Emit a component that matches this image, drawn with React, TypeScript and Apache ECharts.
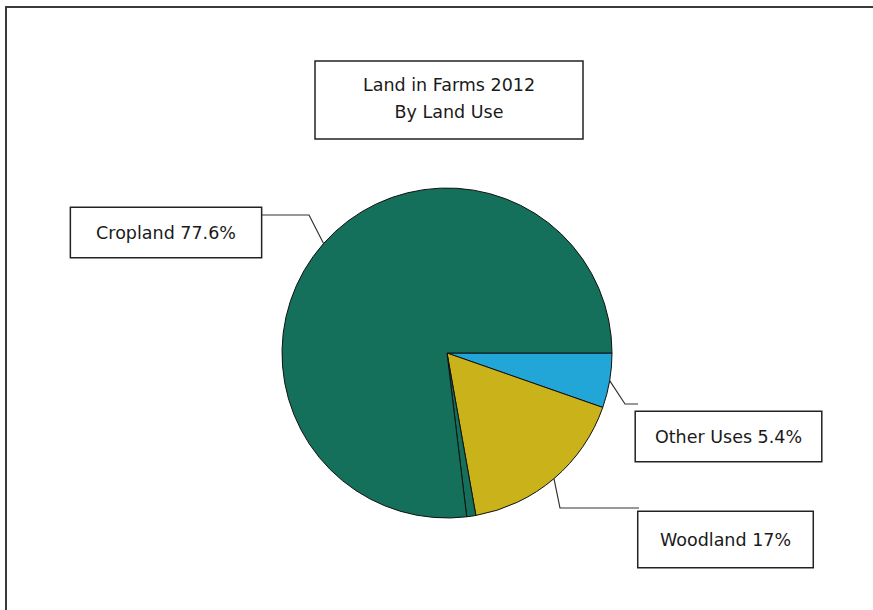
import React, { useEffect, useRef } from "react";
import * as echarts from "echarts";

const titleLines = ["Land in Farms 2012", "By Land Use"];
const categories = ["Other Uses", "Woodland", "", "Cropland"];
const shares = [5.4, 17, 0.9, 77.6];
const sliceColors = ["#22A6D7", "#CAB21A", "#14705A", "#14705A"];

const FONT = '"DejaVu Sans", Verdana, sans-serif';
const CENTER: [number, number] = [447, 353];
const RADIUS = 165;

type Box = { cx: number; cy: number; pad: [number, number]; elbow: [number, number]; end: [number, number] };
const labelBoxes: Record<string, Box> = {
  "Other Uses": { cx: 728.5, cy: 436.5, pad: [14.5, 19], elbow: [625, 404], end: [638, 404] },
  Woodland: { cx: 725.5, cy: 539.5, pad: [17.5, 21.5], elbow: [560, 508], end: [639, 508] },
  Cropland: { cx: 166, cy: 232.5, pad: [14.5, 25], elbow: [309, 215], end: [261, 215] },
};

export default function App() {
  const ref = useRef<HTMLDivElement>(null);
  useEffect(() => {
    if (!ref.current) return;
    const chart = echarts.init(ref.current, null, { renderer: "svg" });
    const total = shares.reduce((a, b) => a + b, 0);
    const edgePoint = (idx: number) => {
      let cum = 0;
      for (let i = 0; i < idx; i++) cum += shares[i];
      const a = ((cum + shares[idx] / 2) / total) * Math.PI * 2;
      return [CENTER[0] + RADIUS * Math.cos(a), CENTER[1] + RADIUS * Math.sin(a)];
    };
    const data = categories.map((name, i) => {
      const box = labelBoxes[name];
      return {
        name,
        value: shares[i],
        itemStyle: { color: sliceColors[i] },
        label: box ? { show: true, padding: box.pad } : { show: false },
        labelLine: box ? { show: true } : { show: false },
      };
    });
    chart.setOption({
      animation: false,
      backgroundColor: "#ffffff",
      graphic: [
        {
          type: "rect",
          z: 0,
          shape: { x: 6, y: 7, width: 900, height: 700 },
          style: { fill: "none", stroke: "#3a3a3a", lineWidth: 2 },
        },
        {
          type: "rect",
          z: 1,
          shape: { x: 315, y: 61, width: 268, height: 78 },
          style: { fill: "#ffffff", stroke: "#222222", lineWidth: 1.5 },
        },
        {
          type: "text",
          z: 2,
          x: 449,
          y: 98,
          style: {
            text: titleLines.join("\n"),
            align: "center",
            verticalAlign: "middle",
            fontSize: 17.5,
            fontFamily: FONT,
            lineHeight: 27,
            fill: "#1a1a1a",
          },
        },
      ],
      series: [
        {
          type: "pie",
          center: CENTER,
          radius: RADIUS,
          startAngle: 0,
          clockwise: true,
          avoidLabelOverlap: false,
          itemStyle: { borderColor: "#111111", borderWidth: 1 },
          label: {
            formatter: "{b} {c}%",
            fontSize: 17.5,
            fontFamily: FONT,
            color: "#1a1a1a",
            lineHeight: 20,
            backgroundColor: "#ffffff",
            borderColor: "#222222",
            borderWidth: 1.5,
          },
          labelLine: {
            show: true,
            length: 10,
            length2: 10,
            lineStyle: { color: "#333333", width: 1.2 },
          },
          labelLayout: (params: any) => {
            const name = categories[params.dataIndex];
            const box = labelBoxes[name];
            if (!box) return {};
            const first =
              params.labelLinePoints && params.labelLinePoints[0]
                ? params.labelLinePoints[0]
                : edgePoint(params.dataIndex);
            return {
              x: box.cx,
              y: box.cy,
              align: "center",
              verticalAlign: "middle",
              labelLinePoints: [first, box.elbow, box.end],
            };
          },
          data,
        },
      ],
    });
    return () => chart.dispose();
  }, []);
  return (
    <div
      ref={ref}
      style={{ position: "fixed", left: 0, top: 0, width: 873, height: 610 }}
    />
  );
}
